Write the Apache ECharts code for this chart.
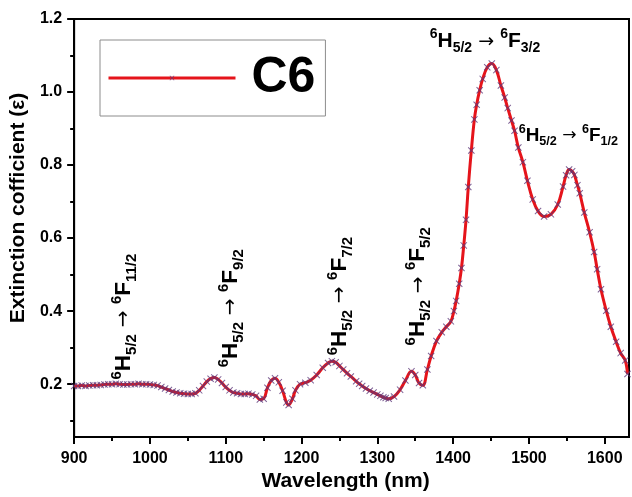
<!DOCTYPE html>
<html>
<head>
<meta charset="utf-8">
<script src="https://cdn.jsdelivr.net/npm/echarts@6/dist/echarts.min.js"></script>
<style>
  html, body { margin: 0; padding: 0; background: #fff; }
  #chart { width: 632px; height: 497px; }
</style>
</head>
<body>
<div id="chart"></div>
<script>
'use strict';

// spectrum
var wavelength = [
  900, 905, 910, 915, 920, 925, 930, 935, 940, 945,
  950, 955, 960, 965, 970, 975, 980, 985, 990, 995,
  1000, 1005, 1010, 1015, 1020, 1025, 1030, 1035, 1040, 1045,
  1050, 1055, 1060, 1065, 1070, 1075, 1080, 1085, 1090, 1095,
  1100, 1105, 1110, 1115, 1120, 1125, 1130, 1135, 1140, 1145,
  1150, 1155, 1160, 1165, 1170, 1175, 1180, 1183, 1188, 1192,
  1198, 1205, 1212, 1220, 1228, 1235, 1240, 1245, 1250, 1255,
  1260, 1265, 1272, 1276, 1280, 1285, 1290, 1295, 1300, 1304,
  1308, 1311, 1315, 1322, 1330, 1337, 1345, 1350, 1355, 1360,
  1366, 1371, 1378, 1385, 1391, 1397, 1401, 1404, 1408, 1411,
  1414, 1417, 1420, 1424, 1428, 1431, 1435, 1439, 1445, 1451,
  1457, 1463, 1468, 1472, 1477, 1481, 1486, 1492, 1498, 1505,
  1512, 1520, 1529, 1538, 1545, 1549, 1553, 1557, 1560, 1564,
  1567, 1573, 1580, 1586, 1590, 1595, 1602, 1608, 1615, 1621,
  1627, 1630
];
var extinction = [
  0.195, 0.195, 0.196, 0.195, 0.196, 0.197, 0.197, 0.198, 0.199, 0.200,
  0.200, 0.201, 0.200, 0.199, 0.199, 0.200, 0.200, 0.201, 0.200, 0.200,
  0.199, 0.198, 0.196, 0.192, 0.188, 0.184, 0.180, 0.177, 0.175, 0.174,
  0.173, 0.173, 0.175, 0.183, 0.195, 0.207, 0.215, 0.218, 0.213, 0.203,
  0.192, 0.183, 0.177, 0.175, 0.173, 0.173, 0.174, 0.172, 0.168, 0.158,
  0.160, 0.190, 0.210, 0.216, 0.205, 0.182, 0.150, 0.143, 0.160, 0.183,
  0.200, 0.204, 0.211, 0.225, 0.245, 0.258, 0.263, 0.260, 0.250, 0.240,
  0.230, 0.221, 0.208, 0.201, 0.195, 0.188, 0.182, 0.177, 0.172, 0.168,
  0.164, 0.162, 0.160, 0.166, 0.185, 0.210, 0.235, 0.225, 0.203, 0.197,
  0.240, 0.277, 0.318, 0.342, 0.357, 0.372, 0.400, 0.428, 0.475, 0.518,
  0.580, 0.650, 0.740, 0.840, 0.925, 0.965, 1.005, 1.036, 1.068, 1.078,
  1.060, 1.018, 0.985, 0.956, 0.922, 0.894, 0.848, 0.808, 0.757, 0.706,
  0.674, 0.659, 0.665, 0.692, 0.741, 0.772, 0.788, 0.783, 0.773, 0.745,
  0.723, 0.670, 0.616, 0.562, 0.515, 0.460, 0.401, 0.357, 0.316, 0.285,
  0.265, 0.228
];

var xMajor = [900, 1000, 1100, 1200, 1300, 1400, 1500, 1600];
var xMinor = [950, 1050, 1150, 1250, 1350, 1450, 1550];
var yMajor = [0.2, 0.4, 0.6, 0.8, 1.0, 1.2];
var yMinor = [0.1, 0.3, 0.5, 0.7, 0.9, 1.1];

// transition labels: final level, anchor (nm, value), rotated or not
var annoFinal = ['3/2', '1/2', '11/2', '9/2', '7/2', '5/2'];
var annoX = [1442, 1552, 966, 1107, 1251, 1354];
var annoY = [1.138, 0.881, 0.385, 0.408, 0.441, 0.468];
var annoRotated = [false, false, true, true, true, true];

var FONT = 'Arial, "Liberation Sans", Helvetica, sans-serif';
var RED = '#e5141b';

var chartDom = document.getElementById('chart');
var myChart = echarts.init(chartDom, null, { renderer: 'canvas' });

var points = wavelength.map(function (w, i) { return [w, extinction[i]]; });

var crossPath = 'path://M0,1L1,0L5,4L9,0L10,1L6,5L10,9L9,10L5,6L1,10L0,9L4,5Z';

function baseAxis(min, max, pos) {
  return {
    type: 'value',
    min: min,
    max: max,
    position: pos,
    axisLine: { show: true, onZero: false, lineStyle: { color: '#000', width: 2 } },
    splitLine: { show: false }
  };
}

var tickFont = { color: '#000', fontSize: 16, fontWeight: 'bold', fontFamily: FONT };

var option = {
  animation: false,
  backgroundColor: '#fff',
  grid: {
    left: 73, right: 3, top: 19, bottom: 51,
    show: true, borderColor: '#000', borderWidth: 2,
    containLabel: false
  },
  legend: {
    left: 100,
    top: 40,
    padding: [13, 10, 13, 7],
    borderColor: '#8c8c8c',
    borderWidth: 1,
    itemWidth: 127,
    itemHeight: 6,
    data: ['C6'],
    lineStyle: { color: RED, width: 3 },
    textStyle: {
      color: '#000', fontSize: 50, fontWeight: 'bold', fontFamily: FONT,
      lineHeight: 50, padding: [0, 0, 0, 11]
    }
  },
  xAxis: [
    Object.assign(baseAxis(900, 1632, 'bottom'), {
      name: 'Wavelength (nm)',
      nameLocation: 'middle',
      nameGap: 30,
      nameTextStyle: { color: '#000', fontSize: 21, fontWeight: 'bold', fontFamily: FONT,
        padding: [0, 12, 0, 0] },
      axisTick: { show: true, inside: false, length: 7, customValues: xMajor,
        lineStyle: { color: '#000', width: 2 } },
      axisLabel: Object.assign({ show: true, customValues: xMajor, margin: 13,
        formatter: function (v) { return String(v); } }, tickFont)
    }),
    Object.assign(baseAxis(900, 1632, 'bottom'), {
      axisLine: { show: false },
      axisTick: { show: true, inside: false, length: 4, customValues: xMinor,
        lineStyle: { color: '#000', width: 2 } },
      axisLabel: { show: false }
    })
  ],
  yAxis: [
    Object.assign(baseAxis(0.055, 1.2, 'left'), {
      name: 'Extinction cofficient (ε)',
      nameLocation: 'middle',
      nameGap: 35,
      nameTextStyle: { color: '#000', fontSize: 21, fontWeight: 'bold', fontFamily: FONT,
        padding: [0, 0, 0, 40] },
      axisTick: { show: true, inside: false, length: 7, customValues: yMajor,
        lineStyle: { color: '#000', width: 2 } },
      axisLabel: Object.assign({ show: true, customValues: yMajor, margin: 12,
        formatter: function (v) { return v.toFixed(1); } }, tickFont)
    }),
    Object.assign(baseAxis(0.055, 1.2, 'left'), {
      axisLine: { show: false },
      axisTick: { show: true, inside: false, length: 4, customValues: yMinor,
        lineStyle: { color: '#000', width: 2 } },
      axisLabel: { show: false }
    })
  ],
  series: [
    {
      name: 'C6',
      type: 'line',
      xAxisIndex: 0,
      yAxisIndex: 0,
      data: points,
      smooth: 0.4,
      showSymbol: true,
      symbol: crossPath,
      symbolSize: 7,
      itemStyle: { color: '#5e3a7a', opacity: 0.8 },
      lineStyle: { color: RED, width: 3 },
      z: 3
    }
  ]
};

myChart.setOption(option);

function annoText(fin) {
  return '{sup|6}{m|H}{sub|5/2}{a| \u2192 }{sup|6}{m|F}{sub|' + fin + '}';
}

var rich = {
  m:   { fontSize: 21, fontWeight: 'bold', fontFamily: FONT, lineHeight: 28, fill: '#000' },
  sup: { fontSize: 14, fontWeight: 'bold', fontFamily: FONT, lineHeight: 15, verticalAlign: 'top', fill: '#000' },
  sub: { fontSize: 14, fontWeight: 'bold', fontFamily: FONT, lineHeight: 15, verticalAlign: 'bottom', fill: '#000' },
  a:   { fontSize: 19, fontWeight: 'normal', fontFamily: 'DejaVu Sans, ' + FONT, lineHeight: 28, fill: '#000' }
};

var graphics = annoFinal.map(function (fin, i) {
  var p = myChart.convertToPixel({ gridIndex: 0 }, [annoX[i], annoY[i]]);
  var s = annoRotated[i] ? 1.07 : (i === 1 ? 0.9 : 1);
  return {
    type: 'text',
    x: p[0],
    y: p[1],
    rotation: annoRotated[i] ? Math.PI / 2 : 0,
    scaleX: s,
    scaleY: s,
    z: 10,
    style: {
      text: annoText(fin),
      rich: rich,
      align: 'center',
      verticalAlign: 'middle',
      fill: '#000'
    }
  };
});

myChart.setOption({ graphic: graphics });
</script>
</body>
</html>
